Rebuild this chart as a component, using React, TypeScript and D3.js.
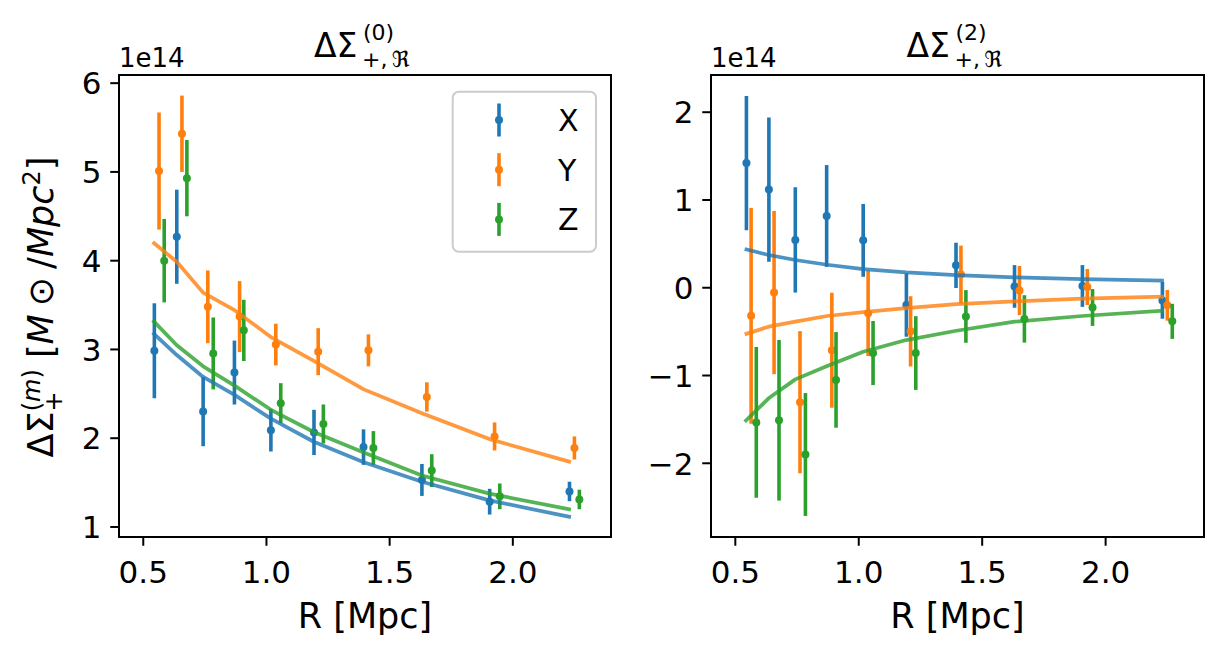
import React from "react";
import * as d3 from "d3";

// ---------- data (values in units of 1e14) ----------
const seriesNames = ["X", "Y", "Z"];
const seriesColors = ["#1f77b4", "#ff7f0e", "#2ca02c"];

const rX = [0.545, 0.636, 0.743, 0.87, 1.018, 1.193, 1.394, 1.631, 1.906, 2.23];
const rY = [0.564, 0.657, 0.762, 0.891, 1.038, 1.21, 1.414, 1.651, 1.926, 2.25];
const rZ = [0.585, 0.677, 0.784, 0.908, 1.058, 1.231, 1.434, 1.671, 1.947, 2.27];
const rModel = [0.538, 0.635, 0.743, 0.872, 1.018, 1.192, 1.395, 1.631, 1.905, 2.236];

// m = 0 panel
const m0X = [2.985, 4.27, 2.3, 2.74, 2.09, 2.065, 1.9, 1.53, 1.285, 1.4];
const m0Xerr = [0.535, 0.53, 0.39, 0.36, 0.24, 0.255, 0.2, 0.18, 0.145, 0.11];
const m0Y = [5.01, 5.43, 3.48, 3.37, 3.055, 2.975, 2.99, 2.465, 2.02, 1.89];
const m0Yerr = [0.66, 0.43, 0.41, 0.4, 0.235, 0.265, 0.18, 0.165, 0.158, 0.13];
const m0Z = [4.0, 4.93, 2.955, 3.215, 2.395, 2.16, 1.89, 1.635, 1.345, 1.31];
const m0Zerr = [0.47, 0.43, 0.405, 0.345, 0.225, 0.22, 0.19, 0.185, 0.145, 0.11];
const m0ModelX = [3.19, 2.94, 2.69, 2.485, 2.22, 1.96, 1.73, 1.51, 1.3, 1.11];
const m0ModelY = [4.21, 3.99, 3.64, 3.44, 3.14, 2.87, 2.55, 2.28, 1.99, 1.73];
const m0ModelZ = [3.33, 3.05, 2.81, 2.59, 2.32, 2.07, 1.84, 1.58, 1.375, 1.196];

// m = 2 panel
const m2X = [1.42, 1.118, 0.545, 0.818, 0.54, -0.197, 0.255, 0.015, 0.02, -0.144];
const m2Xerr = [0.764, 0.822, 0.6, 0.58, 0.415, 0.361, 0.258, 0.243, 0.238, 0.209];
const m2Y = [-0.32, -0.055, -1.304, -0.712, -0.292, -0.497, 0.15, -0.032, 0.008, -0.2];
const m2Yerr = [1.23, 0.93, 0.81, 0.655, 0.486, 0.4, 0.33, 0.28, 0.205, 0.175];
const m2Z = [-1.534, -1.51, -1.9, -1.05, -0.744, -0.744, -0.327, -0.355, -0.225, -0.383];
const m2Zerr = [0.86, 0.915, 0.7, 0.545, 0.365, 0.42, 0.3, 0.27, 0.21, 0.2];
const m2ModelX = [0.441, 0.373, 0.316, 0.262, 0.213, 0.175, 0.145, 0.118, 0.099, 0.08];
const m2ModelY = [-0.531, -0.444, -0.387, -0.322, -0.277, -0.231, -0.186, -0.155, -0.125, -0.102];
const m2ModelZ = [-1.527, -1.26, -1.044, -0.892, -0.729, -0.596, -0.49, -0.387, -0.322, -0.262];

const xTicks = [0.5, 1.0, 1.5, 2.0];
const yTicksLeft = [1, 2, 3, 4, 5, 6];
const yTicksRight = [-2, -1, 0, 1, 2];
const xDomain = [0.4015, 2.3985];
const yDomainLeft = [0.887, 6.092];
const yDomainRight = [-2.84, 2.424];

const FONT = "DejaVu Sans";
const W = 1223;
const H = 655;

type Panel = {
  left: number;
  right: number;
  yDomain: number[];
  yTicks: number[];
  obs: number[][];
  errs: number[][];
  models: number[][];
  order: string;
  legend: boolean;
  ylabel: boolean;
};

const rs = [rX, rY, rZ];

const panels: Panel[] = [
  {
    left: 119, right: 611, yDomain: yDomainLeft, yTicks: yTicksLeft,
    obs: [m0X, m0Y, m0Z], errs: [m0Xerr, m0Yerr, m0Zerr],
    models: [m0ModelX, m0ModelY, m0ModelZ], order: "0", legend: true, ylabel: true,
  },
  {
    left: 711, right: 1204, yDomain: yDomainRight, yTicks: yTicksRight,
    obs: [m2X, m2Y, m2Z], errs: [m2Xerr, m2Yerr, m2Zerr],
    models: [m2ModelX, m2ModelY, m2ModelZ], order: "2", legend: false, ylabel: false,
  },
];

const TOP = 75;
const BOTTOM = 537;

const fmtTick = (v: number) => (v < 0 ? "\u2212" + Math.abs(v) : String(v));

function PanelView({ p }: { p: Panel }) {
  const x = d3.scaleLinear().domain(xDomain).range([p.left, p.right]);
  const y = d3.scaleLinear().domain(p.yDomain).range([BOTTOM, TOP]);
  const line = d3
    .line<number>()
    .x((_, i) => x(rModel[i]))
    .y((d) => y(d));
  const cx = (p.left + p.right) / 2;
  return (
    <g>
      {/* error bars */}
      {p.obs.map((vals, s) => (
        <g key={"e" + s}>
          {vals.map((v, i) => (
            <g key={i}>
              <line
                x1={x(rs[s][i])}
                x2={x(rs[s][i])}
                y1={y(v - p.errs[s][i])}
                y2={y(v + p.errs[s][i])}
                stroke={seriesColors[s]}
                strokeWidth={3.6}
              />
              <circle cx={x(rs[s][i])} cy={y(v)} r={4} fill={seriesColors[s]} />
            </g>
          ))}
        </g>
      ))}
      {/* model lines */}
      {p.models.map((m, s) => (
        <path
          key={"m" + s}
          d={line(m) || ""}
          fill="none"
          stroke={seriesColors[s]}
          strokeOpacity={0.8}
          strokeWidth={3.75}
          strokeLinejoin="round"
        />
      ))}
      {/* frame */}
      <rect
        x={p.left}
        y={TOP}
        width={p.right - p.left}
        height={BOTTOM - TOP}
        fill="none"
        stroke="#000"
        strokeWidth={2}
      />
      {/* x ticks */}
      {xTicks.map((t) => (
        <g key={"xt" + t}>
          <line x1={x(t)} x2={x(t)} y1={BOTTOM} y2={BOTTOM + 8.75} stroke="#000" strokeWidth={2} />
          <text x={x(t)} y={582.5} textAnchor="middle" fontFamily={FONT} fontSize={31}>
            {t.toFixed(1)}
          </text>
        </g>
      ))}
      {/* y ticks */}
      {p.yTicks.map((t) => (
        <g key={"yt" + t}>
          <line x1={p.left - 8.75} x2={p.left} y1={y(t)} y2={y(t)} stroke="#000" strokeWidth={2} />
          <text
            x={p.left - 17.5}
            y={y(t)}
            dy="0.364em"
            textAnchor="end"
            fontFamily={FONT}
            fontSize={31}
          >
            {fmtTick(t)}
          </text>
        </g>
      ))}
      {/* offset text */}
      <text x={p.left} y={66.5} fontFamily={FONT} fontSize={26}>
        1e14
      </text>
      {/* x label */}
      <text x={cx} y={628} textAnchor="middle" fontFamily={FONT} fontSize={35}>
        R [Mpc]
      </text>
      {/* title */}
      <text x={cx - 51} y={57} fontFamily={FONT} fontSize={33}>
        ΔΣ
      </text>
      <text x={cx - 2} y={40} fontFamily={FONT} fontSize={22}>
        ({p.order})
      </text>
      <text x={cx - 3} y={67} fontFamily={FONT} fontSize={22}>
        +,{"\u2009"}ℜ
      </text>
      {p.legend && (
        <g>
          <rect
            x={452.7}
            y={91.7}
            width={143.3}
            height={160}
            rx={6}
            fill="#fff"
            fillOpacity={0.8}
            stroke="#cccccc"
            strokeWidth={2}
          />
          {seriesNames.map((n, s) => {
            const ry = 120 + s * 49.7;
            return (
              <g key={n}>
                <line x1={499} x2={499} y1={ry - 16.5} y2={ry + 16.5} stroke={seriesColors[s]} strokeWidth={3.6} />
                <circle cx={499} cy={ry} r={4} fill={seriesColors[s]} />
                <text x={558} y={ry} dy="0.364em" fontFamily={FONT} fontSize={30}>
                  {n}
                </text>
              </g>
            );
          })}
        </g>
      )}
      {p.ylabel && (
        <g transform={`translate(53, 307) rotate(-90)`}>
          <text textAnchor="middle" fontFamily={FONT} fontSize={35}>
            <tspan>ΔΣ</tspan>
            <tspan fontSize={24} dy={9}>+</tspan>
            <tspan fontSize={24} dx={-20} dy={-22}>(</tspan>
            <tspan fontSize={24} fontStyle="italic">m</tspan>
            <tspan fontSize={24}>)</tspan>
            <tspan dy={13}>{"\u00a0["}</tspan>
            <tspan fontStyle="italic">M</tspan>
            <tspan dx={8}>⊙</tspan>
            <tspan dx={8}>/</tspan>
            <tspan fontStyle="italic">Mpc</tspan>
            <tspan fontSize={24} dy={-13}>2</tspan>
            <tspan dy={13}>]</tspan>
          </text>
        </g>
      )}
    </g>
  );
}

export default function App() {
  return (
    <svg
      width={W}
      height={H}
      viewBox={`0 0 ${W} ${H}`}
      style={{ position: "fixed", left: 0, top: 0, background: "#fff" }}
    >
      <rect x={0} y={0} width={W} height={H} fill="#fff" />
      {panels.map((p, i) => (
        <PanelView key={i} p={p} />
      ))}
    </svg>
  );
}
